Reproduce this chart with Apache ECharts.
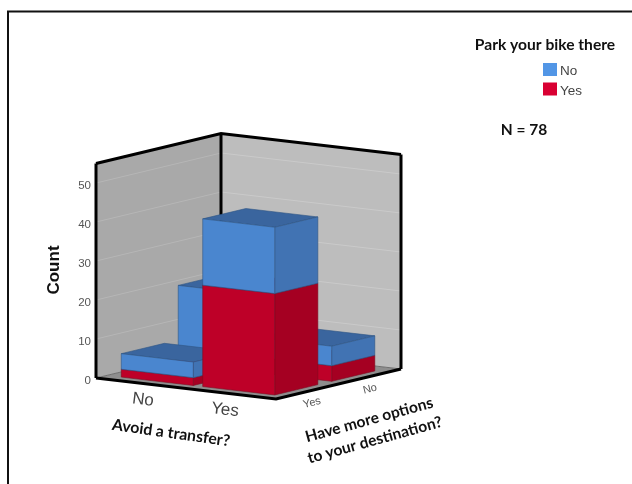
<!DOCTYPE html>
<html>
<head>
<meta charset="utf-8">
<style>html,body{margin:0;padding:0;background:#fff}#c{width:632px;height:484px}</style>
<script src="https://cdn.jsdelivr.net/npm/echarts@6/dist/echarts.min.js"></script>
</head>
<body>
<div id="c"></div>
<script>
// Categories
const avoidLabels = ['No', 'Yes'];
const moreLabels = ['Yes', 'No'];
const countTicks = [0, 10, 20, 30, 40, 50];
// Counts indexed [avoid][more]
const parkYes = [[2, 4], [26, 4]];
const parkNo = [[4, 16], [17, 5]];

// Oblique projection settings
const WALL_TOP = 55;
const U_SPAN = 2, V_SPAN = 2;
const SLOPE_U = 10.5, DEPTH_X = 62.5, DEPTH_Y = -15;
const U_CENTER = [0.56, 1.465], U_HALF = 0.40;
const V_CENTER = [0.519, 1.43], V_HALF = 0.345;

const BLUE = {front: '#4A86CF', side: '#4173B3', top: '#3A659E', line: '#2f5585'};
const RED = {front: '#BE0028', side: '#A50022', top: '#A50022', line: '#7d0a20'};

function project(api, u, v, c) {
  const p = api.coord([u, c]);
  return [p[0] + v * DEPTH_X, p[1] + u * SLOPE_U + v * DEPTH_Y];
}

function barItem(colors) {
  return function (params, api) {
    const a = api.value(0), m = api.value(1), base = api.value(2), val = api.value(3);
    const u0 = U_CENTER[a] - U_HALF, u1 = U_CENTER[a] + U_HALF;
    const v0 = V_CENTER[m] - V_HALF, v1 = V_CENTER[m] + V_HALF;
    const c0 = base, c1 = base + val;
    const P = (u, v, c) => project(api, u, v, c);
    // paint back bars first: nearer the front corner gets the higher rank
    const rank = (1 - m) * 20 + a * 10 + (base > 0 ? 5 : 0);
    const poly = (pts, fill, k) => ({
      type: 'polygon', z2: rank + k,
      shape: {points: pts},
      style: {fill: fill, stroke: colors.line, lineWidth: 0.6, lineJoin: 'round'}
    });
    return {type: 'group', children: [
      poly([P(u0, v0, c1), P(u1, v0, c1), P(u1, v1, c1), P(u0, v1, c1)], colors.top, 1),
      poly([P(u1, v0, c0), P(u1, v1, c0), P(u1, v1, c1), P(u1, v0, c1)], colors.side, 2),
      poly([P(u0, v0, c0), P(u1, v0, c0), P(u1, v0, c1), P(u0, v0, c1)], colors.front, 3)
    ]};
  };
}

function chamberItem(params, api) {
  const P = (u, v, c) => project(api, u, v, c);
  const kids = [];
  const wall = (pts, fill) => kids.push({type: 'polygon', shape: {points: pts}, style: {fill: fill}});
  const line = (pts, stroke, w) => kids.push({type: 'polyline', shape: {points: pts},
    style: {fill: null, stroke: stroke, lineWidth: w, lineJoin: 'miter'}});
  wall([P(0, 0, 0), P(U_SPAN, 0, 0), P(U_SPAN, V_SPAN, 0), P(0, V_SPAN, 0)], '#8E8E8E');
  wall([P(0, 0, 0), P(0, V_SPAN, 0), P(0, V_SPAN, WALL_TOP), P(0, 0, WALL_TOP)], '#A9A9A9');
  wall([P(0, V_SPAN, 0), P(U_SPAN, V_SPAN, 0), P(U_SPAN, V_SPAN, WALL_TOP), P(0, V_SPAN, WALL_TOP)], '#BDBDBD');
  countTicks.slice(1).forEach(t => {
    line([P(0, 0, t), P(0, V_SPAN, t)], '#B6B6B6', 1);
    line([P(0, V_SPAN, t), P(U_SPAN, V_SPAN, t)], '#CACACA', 1);
  });
  line([P(0, 0, 0), P(0, V_SPAN, 0)], '#6f6f6f', 1);
  line([P(0, V_SPAN, 0), P(U_SPAN, V_SPAN, 0)], '#6f6f6f', 1);
  line([P(0, 0, WALL_TOP), P(0, V_SPAN, WALL_TOP), P(U_SPAN, V_SPAN, WALL_TOP)], '#000', 3);
  line([P(0, 0, 0), P(0, 0, WALL_TOP)], '#000', 3);
  line([P(0, V_SPAN, 0), P(0, V_SPAN, WALL_TOP)], '#000', 3);
  line([P(U_SPAN, V_SPAN, 0), P(U_SPAN, V_SPAN, WALL_TOP)], '#000', 3);
  line([P(0, 0, 0), P(U_SPAN, 0, 0), P(U_SPAN, V_SPAN, 0)], '#000', 3);
  return {type: 'group', children: kids};
}

const yesData = [], noData = [];
avoidLabels.forEach((_, a) => moreLabels.forEach((_, m) => {
  yesData.push([a, m, 0, parkYes[a][m]]);
  noData.push([a, m, parkYes[a][m], parkNo[a][m]]);
}));

const TITLE_FONT = 'Lato, "Open Sans", sans-serif';
const LABEL_FONT = '"Liberation Sans", Arial, sans-serif';
const txt = (text, x, y, deg, font, fill, weight, size, extra) => ({
  type: 'text', x: x, y: y, rotation: deg * Math.PI / 180, z: 20,
  style: Object.assign({text: text, fill: fill, fontFamily: font, fontWeight: weight, fontSize: size,
    align: 'center', verticalAlign: 'middle'}, extra || {})
});

const chart = echarts.init(document.getElementById('c'), null, {renderer: 'canvas'});
chart.setOption({
  animation: false,
  backgroundColor: '#fff',
  grid: {left: 96, width: 180, top: 163.5, height: 214.5},
  xAxis: {type: 'value', min: 0, max: U_SPAN, show: false},
  yAxis: {
    type: 'value', min: 0, max: WALL_TOP, interval: 10, z: 10,
    axisLine: {show: false}, axisTick: {show: false}, splitLine: {show: false},
    axisLabel: {color: '#555', fontFamily: LABEL_FONT, fontSize: 11.5, margin: 5,
      verticalAlign: 'top', lineHeight: 5,
      formatter: v => countTicks.includes(v) ? String(v) : ''}
  },
  legend: {
    left: 543, top: 63, orient: 'vertical', data: ['No', 'Yes'], icon: 'rect',
    itemWidth: 14, itemHeight: 13, itemGap: 4, selectedMode: false, padding: 0,
    formatter: name => '{t|' + name + '}',
    textStyle: {
      padding: [0, 0, 0, -2],
      rich: {t: {color: '#444', fontFamily: LABEL_FONT, fontSize: 13.5, padding: [4, 0, 0, 0]}}
    }
  },
  series: [
    {type: 'custom', name: 'chamber', z: 1, silent: true, clip: false, data: [[0, 0]],
      renderItem: chamberItem, encode: {x: 0, y: 1}},
    {type: 'custom', name: 'Yes', z: 2, clip: false, data: yesData, itemStyle: {color: '#D90033'},
      renderItem: barItem(RED), encode: {x: 0, y: 3}},
    {type: 'custom', name: 'No', z: 2, clip: false, data: noData, itemStyle: {color: '#5296E6'},
      renderItem: barItem(BLUE), encode: {x: 0, y: 3}}
  ],
  graphic: [
    {type: 'polyline', z: 20, shape: {points: [[8, 484], [8, 11.5], [632, 11.5]]},
      style: {fill: null, stroke: '#111', lineWidth: 2}},
    txt('Park your bike there', 545, 45, 0, TITLE_FONT, '#111', 'bold', 15.6),
    txt('N = 78', 524, 130, 0, TITLE_FONT, '#111', 'bold', 15.5),
    txt('Count', 54, 270, 90, LABEL_FONT, '#111', 'bold', 17),
    txt(avoidLabels[0], 143, 400, -7, LABEL_FONT, '#444', 'normal', 17),
    txt(avoidLabels[1], 225, 410, -7, LABEL_FONT, '#444', 'normal', 17),
    txt(moreLabels[0], 312, 403, 14, LABEL_FONT, '#555', 'normal', 11),
    txt(moreLabels[1], 370, 389, 14, LABEL_FONT, '#555', 'normal', 11),
    txt('Avoid a transfer?', 171, 433, -8, TITLE_FONT, '#111', 'bold', 15.8),
    txt('Have more options\nto your destination?', 372, 430, 15.5, TITLE_FONT, '#111', 'bold', 15.6, {lineHeight: 21})
  ]
});
</script>
</body>
</html>
